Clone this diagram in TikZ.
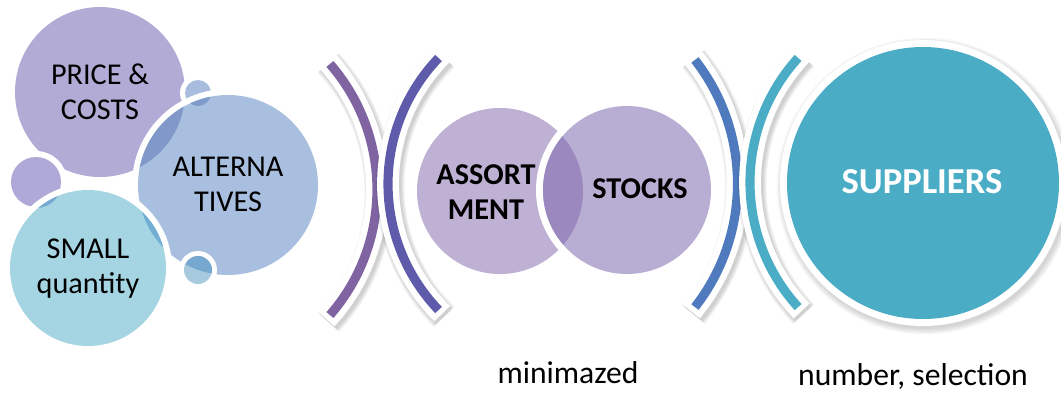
\documentclass[tikz,border=0pt]{standalone}
\usepackage{fontspec}
\setmainfont{Carlito}
\usepackage{tikz}

\definecolor{cprice}{HTML}{B1ABD5}
\definecolor{calt}{HTML}{A9BFDF}
\definecolor{csmall}{HTML}{A5D5E3}
\definecolor{cdotl}{HTML}{AEA9D6}
\definecolor{cdott}{HTML}{A8BDDE}
\definecolor{cdotb}{HTML}{A7CADF}
\definecolor{cpa}{HTML}{8099C9}
\definecolor{cta}{HTML}{7F9BCB}
\definecolor{csa}{HTML}{72AED3}
\definecolor{csd}{HTML}{74A8D0}
\definecolor{cba}{HTML}{77A8CF}
\definecolor{cassort}{HTML}{BEB1D4}
\definecolor{cstock}{HTML}{B8AED4}
\definecolor{cover}{HTML}{9A88BE}
\definecolor{csup}{HTML}{4BACC6}
\definecolor{arcA}{HTML}{8064A2}
\definecolor{arcB}{HTML}{5F5BAB}
\definecolor{arcC}{HTML}{4F7BBE}
\definecolor{arcD}{HTML}{4BACC6}

\begin{document}
\begin{tikzpicture}[x=0.025cm, y=-0.025cm,
    bubbletext/.style={align=center, font=\fontsize{21.5}{25}\selectfont},
    boldtext/.style={align=center, font=\fontsize{21.5}{25}\selectfont\bfseries},
    notetext/.style={anchor=base, font=\fontsize{22.5}{26}\selectfont}]
  \useasboundingbox (0,0) rectangle (1061,396);

  % centres of the bubbles
  \coordinate (pc) at (100,92);
  \coordinate (dl) at (36,182);
  \coordinate (dt) at (198,93);
  \coordinate (al) at (228,185);
  \coordinate (sq) at (88,268);
  \coordinate (db) at (198,270);
  \coordinate (as) at (500,191);
  \coordinate (st) at (627,190);
  \coordinate (su) at (923,183);

  % left cluster, back to front
  \fill[cprice] (pc) circle[radius=85];
  \fill[white] (dl) circle[radius=31];
  \fill[cdotl] (dl) circle[radius=25];
  \fill[white] (dt) circle[radius=18];
  \fill[cdott] (dt) circle[radius=13];
  \fill[white] (al) circle[radius=96];
  \fill[calt] (al) circle[radius=90];
  \begin{scope}
    \clip (al) circle[radius=90];
    \fill[cpa] (pc) circle[radius=85];
    \fill[cta] (dt) circle[radius=13];
  \end{scope}
  \fill[white] (sq) circle[radius=84];
  \fill[csmall] (sq) circle[radius=78];
  \begin{scope}
    \clip (sq) circle[radius=78];
    \fill[csa] (al) circle[radius=90];
    \fill[csd] (dl) circle[radius=26];
  \end{scope}
  \fill[white] (db) circle[radius=19];
  \fill[cdotb] (db) circle[radius=14];
  \begin{scope}
    \clip (db) circle[radius=14];
    \fill[cba] (al) circle[radius=90];
  \end{scope}

  % the two middle circles
  \fill[cassort] (as) circle[radius=83];
  \fill[white] (st) circle[radius=91];
  \fill[cstock] (st) circle[radius=84];
  \begin{scope}
    \clip (as) circle[radius=83];
    \fill[cover] (st) circle[radius=84];
  \end{scope}

  % brackets: centre x / centre y / radius / start / end / colour
  \foreach \cx/\cy/\r/\a/\b/\col in {186/189.5/191/-41.1/41.1/arcA,
      570.4/184/182.4/136.3/223.7/arcB,
      536.8/183.5/200.7/-38/38/arcC,
      935.5/182.5/185.5/137.8/222.2/arcD}{
    \pgfmathsetmacro\sa{\a-1.6}
    \pgfmathsetmacro\ea{\b+1.6}
    \foreach \k in {0,...,4}
      \draw[black, opacity=0.04, line width=15.5pt+\k*1.3pt]
        (\cx+2,\cy+3) ++(\sa:\r) arc[start angle=\sa, end angle=\ea, radius=\r];
    \draw[white, line width=15.5pt]
      (\cx,\cy) ++(\sa:\r) arc[start angle=\sa, end angle=\ea, radius=\r];
    \draw[\col, line width=6.5pt]
      (\cx,\cy) ++(\a:\r) arc[start angle=\a, end angle=\b, radius=\r];
  }

  % big circle on the right
  \foreach \k in {0,...,4}
    \fill[black, opacity=0.035] ([shift={(2,3)}]su) circle[radius=143+\k*1.3];
  \fill[white] (su) circle[radius=143];
  \fill[csup] (su) circle[radius=136];

  % texts
  \node[bubbletext] (tprice) at (100,91.5) {PRICE \&\\COSTS};
  \node[bubbletext] (talt) at (228,184) {ALTERNA\\TIVES};
  \node[bubbletext] (tsmall) at (88,269) {SMALL\\quantity};
  \node[boldtext] (tassort) at (486,192) {ASSORT\\MENT};
  \node[boldtext] (tstock) at (640,189) {STOCKS};
  \node[boldtext, text=white, font=\fontsize{26}{30}\selectfont\bfseries] (tsup) at (922,182) {SUPPLIERS};
  \node[notetext] (tmin) at (568,383) {minimazed};
  \node[notetext] (tnum) at (913,385) {number, selection};
\end{tikzpicture}
\end{document}
